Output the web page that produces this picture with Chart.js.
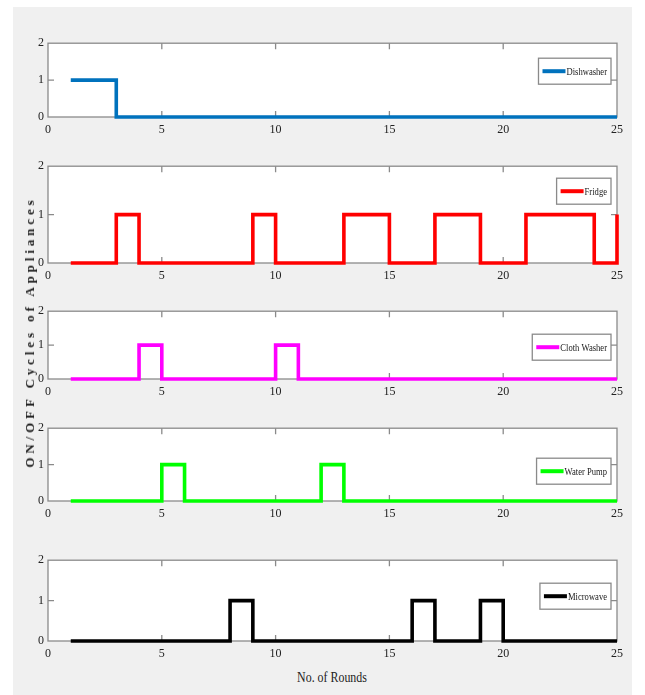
<!DOCTYPE html>
<html>
<head>
<meta charset="utf-8">
<script src="https://cdn.jsdelivr.net/npm/chart.js@4.4.0/dist/chart.umd.min.js"></script>
<style>
  html,body{margin:0;padding:0;background:#ffffff;}
  #fig{position:absolute;left:13px;top:7px;width:619px;height:688px;background:#f0f0f0;}
  canvas{position:absolute;}
  #ytitle{position:absolute;z-index:5;left:30px;top:332px;transform:translate(-50%,-50%) rotate(-90deg);
    font:bold 13px "Liberation Serif",serif;letter-spacing:3.9px;color:#222;white-space:nowrap;}
  #xtitle{position:absolute;z-index:5;left:332px;top:678px;transform:translate(-50%,-50%) scaleX(0.85);
    font:14px "Liberation Serif",serif;color:#222;white-space:nowrap;}
</style>
</head>
<body>
<div id="fig"></div>
<div id="ytitle">ON/OFF Cycles of Appliances</div>
<div id="xtitle">No. of Rounds</div>
<script>
// ---- data ----
const rounds      = [1,2,3,4,5,6,7,8,9,10,11,12,13,14,15,16,17,18,19,20,21,22,23,24,25];
const dishwasher  = [1,1,0,0,0,0,0,0,0,0,0,0,0,0,0,0,0,0,0,0,0,0,0,0,0];
const fridge      = [0,0,1,0,0,0,0,0,1,0,0,0,1,1,0,0,1,1,0,0,1,1,1,0,1];
const clothWasher = [0,0,0,1,0,0,0,0,0,1,0,0,0,0,0,0,0,0,0,0,0,0,0,0,0];
const waterPump   = [0,0,0,0,1,0,0,0,0,0,0,1,0,0,0,0,0,0,0,0,0,0,0,0,0];
const microwave   = [0,0,0,0,0,0,0,1,0,0,0,0,0,0,0,1,0,0,1,0,0,0,0,0,0];
const seriesNames = ["Dishwasher","Fridge","Cloth Washer","Water Pump","Microwave"];
const xTicks = [0,5,10,15,20,25];
const yTicks = [0,1,2];

// ---- styles / layout ----
const seriesValues = [dishwasher, fridge, clothWasher, waterPump, microwave];
const colors = ["#0072BD","#ff0000","#ff00ff","#00ff00","#000000"];
const plotTops    = [40,163,308,425,557];
const plotBottoms = [117,263,379,501,641];
const legendOffsets = [15,12,23,30,23];
const FIG_LEFT = 13, FIG_RIGHT = 632, PAD_TOP = 8, XAXIS_H = 22;

const framePlugin = {
  id:'frame',
  beforeDatasetsDraw(chart){
    const {ctx, chartArea:a} = chart;
    ctx.save();
    ctx.fillStyle = '#ffffff';
    ctx.fillRect(a.left, a.top, a.right-a.left, a.bottom-a.top);
    ctx.strokeStyle = '#8a8a8a';
    ctx.lineWidth = 1.3;
    ctx.strokeRect(a.left, a.top, a.right-a.left, a.bottom-a.top);
    const xs = chart.scales.x, ys = chart.scales.y;
    ctx.beginPath();
    xs.ticks.forEach(t=>{
      if (t.value<=xs.min || t.value>=xs.max) return;
      const px = xs.getPixelForValue(t.value);
      ctx.moveTo(px, a.top); ctx.lineTo(px, a.top+6);
      ctx.moveTo(px, a.bottom); ctx.lineTo(px, a.bottom-6);
    });
    ys.ticks.forEach(t=>{
      if (t.value<=ys.min || t.value>=ys.max) return;
      const py = ys.getPixelForValue(t.value);
      ctx.moveTo(a.left, py); ctx.lineTo(a.left+6, py);
      ctx.moveTo(a.right, py); ctx.lineTo(a.right-6, py);
    });
    ctx.stroke();
    ctx.restore();
  }
};

const legendPlugin = {
  id:'innerLegend',
  afterDraw(chart, args, opts){
    const {ctx, chartArea:a} = chart;
    const ds = chart.data.datasets[0];
    ctx.save();
    ctx.font = '11px "Liberation Serif", serif';
    const sx = 0.78;
    const tw = ctx.measureText(ds.label).width * sx;
    const lineLen = 23, pad = 4, h = 26;
    const w = pad + lineLen + 1 + tw + pad;
    const x0 = a.right - 6 - w, y0 = a.top + opts.offset;
    ctx.fillStyle = '#ffffff';
    ctx.fillRect(x0, y0, w, h);
    ctx.strokeStyle = '#8a8a8a';
    ctx.lineWidth = 1.3;
    ctx.strokeRect(x0, y0, w, h);
    ctx.strokeStyle = ds.borderColor;
    ctx.lineWidth = 4;
    ctx.beginPath();
    ctx.moveTo(x0+pad, y0+h/2); ctx.lineTo(x0+pad+lineLen, y0+h/2);
    ctx.stroke();
    ctx.fillStyle = '#1a1a1a';
    ctx.textBaseline = 'middle';
    ctx.translate(x0+pad+lineLen+1, y0+h/2);
    ctx.scale(sx,1);
    ctx.fillText(ds.label, 0, 0.5);
    ctx.restore();
  }
};

const fig = document.body;
seriesValues.forEach((vals, i)=>{
  const c = document.createElement('canvas');
  const plotH = plotBottoms[i]-plotTops[i];
  const W = FIG_RIGHT-FIG_LEFT, H = plotH + PAD_TOP + XAXIS_H;
  c.width = W; c.height = H;
  c.style.left = FIG_LEFT+'px';
  c.style.top = (plotTops[i]-PAD_TOP)+'px';
  c.style.width = W+'px'; c.style.height = H+'px';
  fig.appendChild(c);
  new Chart(c, {
    type:'line',
    data:{ datasets:[{
      label: seriesNames[i],
      data: rounds.map((r,k)=>({x:r, y:vals[k]})),
      borderColor: colors[i],
      backgroundColor: colors[i],
      borderWidth: 3.6,
      pointRadius: 0,
      stepped: 'before',
      fill: false,
      clip: false
    }]},
    options:{
      responsive:false,
      animation:false,
      events:[],
      layout:{padding:{top:PAD_TOP, right:15, left:0, bottom:0}},
      scales:{
        x:{
          type:'linear', min:0, max:25,
          afterBuildTicks: s=>{ s.ticks = xTicks.map(v=>({value:v})); },
          ticks:{ color:'#222', font:{family:'"Liberation Serif", serif', size:12}, padding:6, maxRotation:0, autoSkip:false },
          grid:{ display:false, drawTicks:false },
          border:{ display:false },
          afterFit: s=>{ s.height = XAXIS_H; }
        },
        y:{
          type:'linear', min:0, max:2,
          afterBuildTicks: s=>{ s.ticks = yTicks.map(v=>({value:v})); },
          ticks:{ color:'#222', font:{family:'"Liberation Serif", serif', size:12}, padding:4 },
          grid:{ display:false, drawTicks:false },
          border:{ display:false },
          afterFit: s=>{ s.width = 35; }
        }
      },
      plugins:{
        legend:{display:false},
        tooltip:{enabled:false},
        innerLegend:{ offset: legendOffsets[i] }
      }
    },
    plugins:[framePlugin, legendPlugin]
  });
});
</script>
</body>
</html>
